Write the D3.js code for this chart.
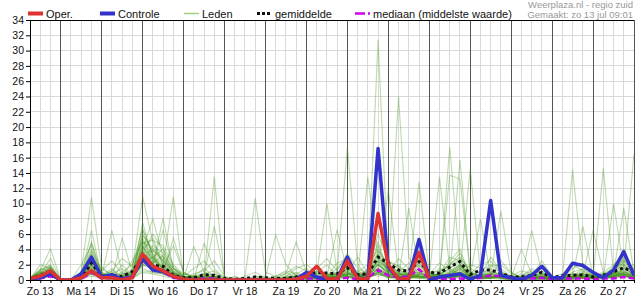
<!DOCTYPE html>
<html>
<head>
<meta charset="utf-8">
<script src="https://cdn.jsdelivr.net/npm/d3@7/dist/d3.min.js"></script>
<style>
  html, body { margin: 0; padding: 0; background: #fff; }
  svg { display: block; font-family: "Liberation Sans", Arial, sans-serif; }
</style>
</head>
<body>
<svg id="chart" width="635" height="300"></svg>
<script>
// ======================================================
//  Neerslag-pluim (ensemble) — Weerplaza regio zuid
// ======================================================
// 6-hourly values, first point zo 13 jul 06:00, last ma 28 jul 00:00.

const startTime = new Date(2025, 6, 13, 6);
const endTime = new Date(2025, 6, 28, 0);
const stepHours = 6;

const dayLabels = ["Zo 13", "Ma 14", "Di 15", "Wo 16", "Do 17", "Vr 18", "Za 19",
  "Zo 20", "Ma 21", "Di 22", "Wo 23", "Do 24", "Vr 25", "Za 26", "Zo 27"];
const yTicks = d3.range(0, 35, 2);

// Oper. run stops after ~10 days
const oper = [0.2,0.5,1.2, 0,0,0.3,1.2, 0.3,0.3,0,0.3, 3.4,1.8,1.2,0.5, 0.1,0,0,0,
  0,0,0,0, 0,0,0,0.1, 0.5,1.8,0.2,0.1, 2.5,0.2,0.1,8.7, 2.0,0.1,0.2,3.6, 0.2];

const controle = [0.1,0.3,0.8, 0,0,0.8,3.0, 0.4,0.7,0.1,0.4, 2.8,1.3,1.1,0.5, 0.1,0,0,0,
  0,0,0,0, 0,0,0,0.1, 1.0,0.4,0.1,0.1, 3.0,0.2,0.2,17.2, 1.7,0.1,0.2,5.3,
  0.1,0.4,0.6,0.8, 0.1,0.6,10.4,0.6, 0.3,0.1,0.6,1.8, 0.3,0.3,2.2,1.9, 1.0,0.3,1.3,3.7, 0.6];

const gemiddelde = [0.1,0.6,1.1, 0,0,0.3,2.2, 0.5,0.6,0.5,1.1, 3.0,1.9,1.8,0.6, 0.3,0.3,0.7,0.6,
  0.2,0.1,0.2,0.4, 0.3,0.2,0.2,0.4, 0.7,1.0,0.9,0.8, 1.6,0.7,0.8,3.0, 2.2,1.3,1.2,2.4,
  1.0,0.9,1.7,2.4, 0.7,1.3,1.3,0.9, 0.4,0.4,0.6,1.0, 0.3,0.6,0.6,0.7, 0.4,0.6,1.1,1.6, 1.0];

const mediaan = [0,0.2,0.5, 0,0,0.1,1.0, 0.2,0.3,0.2,0.5, 2.6,1.3,1.0,0.3, 0.1,0.1,0.2,0.2,
  0,0,0,0, 0,0,0,0, 0.2,0.2,0.1,0.1, 0.3,0.1,0.3,1.3, 0.6,0.3,0.5,1.4,
  0.2,0.1,0.1,0.2, 0.1,0.3,0.6,0.5, 0.2,0.1,0.2,0.3, 0.1,0.2,0.2,0.2, 0.1,0.2,0.2,0.4, 0.2];

// ensemble members (Leden)
const leden = [
  [0.2,1.2,4.1, 0,0,0.5,2.0, 0.8,0.3,0,0.5, 3.0,2.0,1.2,0.4, 0,0.3,0.8,0.2, 0,0,0,0, 0,0,0.2,0.5, 0.8,0.3,0,0.6, 1.2,0.4,0.8,3.5, 1.0,2.0,0.5,1.5, 0.6,0.3,2.5,4.0, 0.5,0.2,1.0,0.3, 0,0,0.5,0.8, 0.2,0,0.4,1.0, 0.3,0.5,1.2,2.0, 0.5],
  [0,0.8,2.8, 0,0,1.0,10.8, 1.5,0.5,0.2,1.0, 5.5,3.0,1.5,0.5, 0.2,0,0,0.5, 0,0,0.3,0, 0,0,0,0, 0.2,1.0,2.0,0.5, 0.3,0,1.5,2.0, 0.5,0.2,0.8,0.3, 0,1.0,0.5,0.2, 0,0.5,3.0,1.2, 0.3,0,0,0.2, 0,0,0.3,0.6, 0.2,0,0.8,3.0, 1.0],
  [0.1,2.0,1.5, 0,0,0.3,6.5, 0.5,6.5,1.0,0.3, 2.0,4.0,2.5,1.0, 0.3,0.5,0,0, 0,0.5,0,0, 0,0,0,0.3, 0,0.5,0.2,1.0, 17.4,2.0,0.5,1.0, 0.3,0,0.5,1.0, 0.5,0.2,0.8,1.5, 0.4,0,0.3,0.5, 0,0,0.2,0.4, 0,0.2,0.5,0.3, 0,0.3,0.6,1.0, 0.3],
  [0.3,1.0,1.8, 0,0,0,5.0, 1.0,0.2,2.0,0.5, 4.5,2.0,6.5,1.5, 0.5,0.2,0.5,7.0, 0.5,0,0,0, 0,0.3,0,0, 0,0,0.5,0.3, 0.8,0.5,1.0,31.4, 2.0,1.0,0.3,0.2, 0.4,0,0.3,0.6, 0.2,0.8,1.5,0.5, 0.2,0,0,0.1, 0,0,0.2,0.4, 0.6,0.2,0.3,1.5, 2.0],
  [0,0.5,1.3, 0,0,0.5,3.5, 0.3,0,0.5,1.5, 10.9,5.0,2.0,0.8, 0,0.3,0.2,0, 0,0,0,0, 0,0,0.5,1.0, 0.5,0,0.3,0.2, 2.0,0.6,0.2,1.5, 0.8,24.0,3.0,0.5, 0.3,0.5,0.2,1.0, 0.6,0.3,0.2,0.1, 0,0.3,0.5,0.2, 0,0,0,0.3, 0.2,0.5,0.3,0.8, 0.2],
  [0.2,0.6,0.9, 0,0,0.8,2.5, 0.5,1.0,0.3,0.2, 4.0,8.0,3.0,1.0, 0.2,4.4,1.0,0.5, 0,0,0,0.3, 0.5,0,0,0, 0.3,0.2,0,0.5, 1.0,0.3,0.8,2.5, 0.5,0.3,9.4,1.0, 0.5,1.5,0.8,2.0, 0.3,0.2,0.5,2.5, 1.0,0.2,0,0, 0,0.3,0.8,0.5, 0.2,0.4,1.5,2.5, 0.8],
  [0,0.3,0.7, 0,0,0.2,1.8, 0.3,0.5,0.3,1.2, 6.5,3.5,1.0,0.3, 0,0,4.8,1.5, 0.2,0,0,0, 0,0,0.3,0.8, 1.5,0.5,0.2,0, 0.5,0.2,13.5,3.0, 1.0,0.5,0.2,0.5, 0.2,0.3,17.4,2.0, 0.5,0.2,0.3,0.8, 0.2,0,0.3,0.6, 0.1,0,0.2,0.5, 0.3,0.8,1.0,0.6, 0.2],
  [0.1,0.9,1.6, 0,0,2.0,4.5, 0.8,0.3,0,0.3, 3.5,1.5,0.8,5.5, 1.0,0.3,0,0.2, 0,0,0,0.5, 0.2,0,0,0.2, 0.5,0.8,10.0,1.0, 0.5,0.3,0.2,1.0, 0.5,0.8,0.5,12.8, 0.8,0.5,0.3,0.5, 0.2,0.5,0.8,0.2, 0,0.2,1.0,0.5, 0.2,0.5,0.3,0.2, 0.5,0.2,0.4,1.2, 0.5],
  [0.2,1.5,1.1, 0,0,0,3.0, 0.5,0.8,1.5,0.5, 7.5,3.0,2.0,0.5, 0.3,0,0.5,0.8, 0,0,0.3,10.7, 1.0,0.5,0,0, 0.2,0.3,0.5,1.5, 3.0,0.5,0.3,0.8, 0.5,0.2,1.0,0.5, 0.3,13.5,1.5,0.8, 0.5,0.3,0.2,0.5, 0.3,0.5,0.2,0, 0,0.2,0.5,1.5, 0.8,0.3,0.5,1.0, 0.6],
  [0,0.4,1.0, 0,0,0.3,2.2, 1.8,0.5,0.3,0.8, 2.5,4.5,3.5,1.5, 0.5,0.2,0.3,13.5, 0.3,0,0,0, 0,0,0.3,0.5, 0.3,0,0.2,0.5, 1.0,3.0,0.8,0.5, 0.8,0.5,0.3,2.0, 0.5,0.3,0.8,15.7, 1.0,0.5,0.3,0.8, 0.5,0.2,0.3,0.2, 0.3,0,0,0.5, 0.3,0.6,0.8,1.5, 0.7],
  [0.3,0.7,1.4, 0,0,0.5,1.5, 0.2,0.3,0.5,2.5, 5.0,2.5,1.5,0.8, 0.2,0,0,0.3, 0,0,0.5,1.0, 0.3,5.9,2.0,0.5, 0.3,0.2,0.5,0.3, 0.5,0.2,1.0,2.5, 1.5,0.8,0.3,0.5, 0.3,0.2,0.5,1.0, 14.5,1.0,0.5,0.3, 0,0,0.3,0.5, 0.2,0.3,0.5,0.8, 0.5,0.2,0.5,0.8, 0.3],
  [0.1,0.5,0.6, 0,0,0.3,2.0, 0.5,0.3,5.5,1.0, 3.0,2.0,8.1,1.5, 0.5,0.2,0.3,0.5, 0,0.2,0,0, 0,0,0,0.5, 0.5,0.3,0.8,0.5, 0.8,0.5,0.3,1.5, 11.8,1.0,0.5,0.3, 0.2,0.5,1.0,2.0, 0.3,0.5,1.0,0.8, 0.5,0.3,6.5,1.0, 0.3,0.2,0.5,0.3, 0.2,0.3,0.5,0.6, 0.3],
  [0.2,1.1,0.5, 0,0,1.0,1.0, 0.3,0.2,0.3,0.5, 4.0,5.5,2.0,10.9, 0.5,0.3,0.2,0.3, 0,0,0,0.2, 0,0.3,0.8,5.0, 1.0,0.5,0.3,0.2, 0.5,0.8,0.5,2.0, 1.0,0.5,0.3,0.8, 0.5,0.3,0.5,1.5, 0.3,0.2,0.8,0.5, 0.3,0,0.2,0.3, 0,0.2,14.4,2.0, 0.5,0.3,0.5,1.0, 0.5],
  [0,0.6,1.2, 0,0,0.2,1.2, 0.2,0.5,0.2,0.5, 2.0,1.5,1.0,0.5, 0.2,0.3,0.5,0.3, 0,0,0,0, 0,0,0,0, 0.2,0.5,0.3,0.8, 0.5,0.3,0.5,1.0, 0.5,0.3,0.8,1.0, 0.5,0.8,1.5,2.5, 0.5,0.3,0.5,9.0, 1.0,0.3,0.2,0.5, 0.2,0,0.3,0.5, 0.3,14.6,1.0,0.8, 0.3],
  [0.1,0.3,0.8, 0,0,0.5,0.8, 0.3,0.2,0.2,0.3, 1.5,1.0,0.8,0.3, 0.2,0,0.2,0.5, 0,0,0,0.3, 0,0.2,0.5,0.3, 0.5,0.3,0.2,0.5, 0.8,0.5,1.0,1.5, 0.5,0.8,0.5,0.8, 0.5,0.3,0.5,1.0, 0.5,0.8,0.5,0.3, 0.2,0.3,0.5,0.3, 0.2,0.3,0.5,0.8, 0.5,0.3,10.0,1.5, 16.5],
  [0.2,0.8,1.0, 0,0,0.3,2.5, 0.5,1.5,0.3,0.2, 3.5,6.0,4.0,1.0, 0.3,0.5,0.3,0.2, 0,0,0,0, 0,0,0,0.2, 0.3,0.5,0.3,0.5, 1.5,0.5,0.8,4.5, 0.8,0.5,0.3,0.5, 0.3,0.5,0.8,1.2, 0.5,0.3,0.5,0.3, 0,0.5,0.3,0.5, 0.3,0.2,0.5,7.0, 0.5,0.3,0.8,9.4, 1.0],
  [0,0.5,0.6, 0,0,0,1.5, 0.3,0.2,0.5,0.8, 2.5,3.0,1.5,4.5, 1.0,0.3,0,0, 0,0,0,0, 0,0,0.3,0.2, 0.5,0.3,0.5,6.6, 1.0,0.5,0.3,1.0, 0.5,0.3,0.8,0.5, 0.3,0.8,1.2,0.8, 0.3,0.5,0.3,0.5, 0.2,0.3,0.5,0.2, 0,0,0.3,0.5, 6.5,1.0,0.5,0.8, 0.4],
  [0.2,0.4,0.9, 0,0,0.5,1.0, 0.2,0.3,0.2,0.5, 2.0,1.5,1.0,0.5, 0.2,0,0.3,0.2, 0,0.3,0,0, 0,0,0,0.3, 0.8,0.5,0.3,0.5, 0.8,1.0,0.5,2.0, 1.0,0.5,0.5,0.8, 0.3,0.5,13.7,13.2, 1.0,0.5,0.3,0.5, 0.3,0.2,0.3,0.5, 0.3,0.2,0.3,0.8, 0.3,0.5,0.8,1.2, 0.5],
  [0.1,0.6,1.5, 0,0,0.8,4.0, 0.5,0.3,0.2,0.8, 6.0,3.5,2.5,1.0, 0.3,0.5,0.8,0.3, 0,0,0,0, 0,0,0,0, 0,0.3,0.5,1.0, 0.5,0.3,0.8,1.5, 0.5,1.0,0.8,0.5, 0.5,0.3,0.5,0.8, 0.3,0.5,0.3,0.2, 0.5,0.3,0.2,0.3, 0,0.3,0.5,0.3, 0.2,0.5,0.3,0.8, 0.3],
  [0,0.2,0.5, 0,0,0,0.8, 0.2,0,0.3,0.5, 1.8,2.5,1.8,0.8, 0.5,0.3,0.2,0, 0,0,0,0, 0,0,0.2,0.5, 0.3,0.8,0.5,0.3, 2.0,0.8,0.5,8.0, 2.5,1.5,0.5,0.3, 0.5,0.8,0.5,0.3, 0.2,0.3,0.8,0.5, 0.3,0.5,0.2,0.3, 0.2,0.3,0.2,0.5, 0.5,0.8,0.5,0.5, 0.2],
  [0.2,0.8,0.7, 0,0,0.3,1.8, 0.3,0.5,0.3,0.3, 3.2,2.0,1.3,0.5, 0.2,0.5,1.5,0.5, 0,0,0,0, 0,0.5,1.0,0.3, 0.5,0.3,0.3,0.5, 0.5,0.5,0.3,1.0, 0.3,0.5,1.5,4.0, 0.8,0.5,0.3,0.5, 0.3,0.2,0.3,0.5, 0.3,0.8,0.5,0.3, 0.2,0,0,0.3, 0.3,0.5,0.6,1.0, 0.5],
  [0.1,0.5,1.2, 0,0,0.3,3.0, 0.5,0.2,0.3,0.5, 4.5,2.5,1.5,0.8, 0.3,0.2,0.3,0.2, 0,0,0,0, 0,0,0,0, 0.3,0.2,0.5,0.8, 0.5,0.3,0.8,5.0, 1.0,0.8,0.5,0.5, 0.3,0.5,0.8,1.0, 0.5,8.0,0.5,0.3, 0.2,0.3,0.5,0.5, 0.3,0.5,0.3,0.5, 0.3,0.5,0.5,0.8, 0.3],
  [0.2,0.3,0.4, 0,0,0.2,0.5, 0.2,0.3,0.2,0.2, 1.0,0.8,0.5,0.2, 0.2,0,0,0.2, 0,0,0,0, 0,0,0,0, 0.2,0.3,0.2,0.5, 0.3,0.5,0.3,0.8, 0.3,0.5,0.3,0.5, 0.3,0.2,0.3,0.5, 0.3,0.2,0.5,0.3, 0.2,0.3,0.2,0.3, 0.2,0.2,0.3,0.2, 0.3,0.2,0.3,0.5, 0.2],
  [0,0.7,1.3, 0,0,0.5,2.8, 1.0,0.5,0.3,0.8, 5.0,4.0,2.5,1.0, 0.5,0.3,0.2,0.5, 0,0,0,0.5, 0.3,0,0,0, 0,0.2,0.5,0.3, 1.5,0.8,0.5,3.0, 1.5,0.5,0.3,0.5, 0.5,1.0,2.0,3.0, 1.0,0.5,0.3,0.5, 0.3,0.2,0,0.3, 0.5,0.3,0.5,0.3, 0.3,0.5,0.5,2.5, 1.5],
  [0.3,1.0,0.8, 0,0,0.3,1.3, 0.3,0.2,0.5,0.3, 2.8,1.8,1.0,0.3, 0.2,0.3,0.2,0.3, 0,0,0,0, 0,0,0.3,0.5, 0.3,0.5,0.3,0.2, 0.8,0.5,0.3,1.2, 0.5,0.3,0.5,0.3, 0.3,0.5,0.3,0.5, 0.3,0.2,0.3,0.5, 0.3,4.0,0.8,0.3, 0.2,0.3,0.5,0.3, 0.2,0.5,0.3,0.5, 0.3],
  [0.1,0.4,1.0, 0,0,0.2,1.6, 0.3,0.5,0.8,0.5, 3.8,2.2,1.2,0.6, 0.3,0.2,0.5,0.3, 0,0,0.2,0, 0,0,0,0.3, 0.5,0.3,0.2,0.5, 1.0,0.5,0.5,2.2, 0.8,0.5,0.3,0.8, 0.5,0.8,0.5,0.5, 0.3,0.5,0.8,0.3, 0.5,0.3,0.2,0.2, 0.2,0.5,0.3,0.5, 0.8,0.3,0.5,4.0, 0.8],
  [0.2,0.6,0.8, 0,0,0.5,2.0, 0.3,0.3,0.2,0.3, 2.2,3.0,4.0,1.8, 0.5,0.3,0.2,0.3, 0,0,0,0, 0,0.2,0.3,0.5, 0.3,0.5,0.8,0.5, 2.5,0.5,0.3,1.5, 0.5,0.8,0.5,0.5, 0.3,0.5,0.5,0.8, 2.0,1.5,0.5,0.3, 0.5,0.3,0.3,0.2, 0.3,0.5,0.8,0.5, 0.3,0.5,0.8,0.6, 0.3],
  [0,0.5,1.0, 0,0,0.3,1.2, 0.3,0.2,0.3,0.5, 3.0,2.0,1.0,0.5, 0.3,0.2,0.2,0.2, 0,0,0,0, 0,0,0,0, 0.5,0.3,0.5,0.5, 0.8,0.5,0.8,1.2, 0.8,0.5,0.3,0.5, 0.3,0.5,0.3,0.5, 0.3,0.5,0.2,0.3, 0.3,0.5,1.5,0.8, 0.3,0.2,0.3,0.3, 0.5,0.3,0.5,0.8, 0.3],
  [0.1,0.3,0.6, 0,0,0.2,0.8, 0.2,0.3,0.2,0.2, 1.2,1.0,0.8,0.3, 0.2,0.3,0.5,0.2, 0,0,0,0, 0,0,0,0.2, 0.3,0.2,0.3,0.3, 0.5,0.3,0.3,0.8, 0.3,0.5,0.3,0.3, 0.3,0.3,0.5,0.5, 0.3,0.2,0.3,0.5, 0.3,0.2,0.3,0.2, 0.3,0.2,0.2,0.3, 0.3,0.3,0.5,0.5, 0.3],
  [0.2,0.9,1.4, 0,0,0.8,2.2, 0.5,0.3,0.5,0.8, 4.2,2.8,1.5,0.5, 0.2,0.3,0.2,0.2, 0,0,0,0, 0,0,0,0.3, 0.5,0.3,0.3,0.5, 1.2,0.5,0.3,2.8, 1.2,0.5,0.8,1.5, 0.5,0.3,0.5,1.8, 0.5,0.3,0.5,0.3, 0.3,0.2,0.3,0.5, 0.2,0.3,0.5,0.3, 0.3,0.5,0.8,1.8, 0.6],
  [0.3,1.2,2.0, 0,0,0.5,3.8, 1.2,2.5,0.8,1.0, 5.8,4.2,3.0,1.2, 0.5,1.5,2.5,1.0, 0.2,0,0,0, 0,0,0.5,1.5, 2.0,1.0,0.5,0.8, 2.2,1.0,2.0,4.0, 1.5,1.0,2.2,3.0, 0.8,1.2,2.0,3.5, 0.8,2.0,2.5,1.0, 0.3,0.2,0.8,1.2, 0.3,0.5,1.0,1.5, 0.5,1.0,2.0,3.2, 1.2],
  [0.1,0.8,1.6, 0,0,1.2,4.8, 0.6,1.2,2.8,1.8, 6.8,3.2,2.2,0.8, 0.3,0.8,1.2,2.5, 0.5,0,0,0.2, 0,0.5,1.2,0.8, 0.5,1.5,2.8,1.2, 3.5,1.5,0.8,6.0, 2.5,1.8,0.8,2.5, 0.5,0.8,3.0,2.5, 1.2,0.5,1.8,2.0, 0.8,0.3,0.5,2.5, 0.5,0.3,1.5,2.2, 0.8,0.5,1.2,2.8, 0.8],
  [0.2,0.5,1.1, 0,0,0.3,2.6, 0.5,0.8,0.3,0.5, 4.8,5.2,4.5,2.0, 0.8,0.5,0.3,0.5, 0,0,0,0, 0,0,0,0.3, 0.8,0.5,0.3,0.5, 1.8,0.8,1.2,3.2, 1.8,1.2,0.8,2.8, 1.0,0.5,0.8,1.5, 0.5,1.2,2.0,1.0, 0.5,0.3,0.5,0.8, 0.3,0.2,0.5,1.2, 0.5,0.8,1.5,2.2, 0.8],
  [0.3,1.3,1.9, 0,0,0.8,3.3, 0.8,0.5,1.0,2.0, 5.2,2.8,1.8,0.8, 0.3,0.2,0.8,1.2, 0.3,0,0,0, 0,0.3,0.8,1.8, 1.2,0.8,0.5,2.2, 2.8,0.8,0.5,2.0, 1.0,2.8,1.5,1.8, 0.8,2.2,1.2,2.0, 0.8,0.5,0.8,1.5, 0.5,1.2,0.8,0.5, 0.3,0.8,2.0,1.2, 0.5,0.8,0.5,1.5, 0.6],
  [0.1,0.6,1.3, 0,0,0.5,2.4, 0.3,1.2,0.5,0.8, 3.6,3.8,2.8,1.2, 0.5,0.3,0.5,0.8, 0,0,0,0, 0,0,0.3,0.5, 0.5,1.2,0.8,0.5, 1.5,0.5,0.8,3.8, 2.2,0.8,0.5,1.2, 0.5,0.8,1.5,2.8, 1.5,0.8,0.5,0.8, 0.3,0.5,1.2,0.8, 0.3,0.5,0.8,0.5, 0.3,0.5,1.8,2.0, 0.5],
  [0.2,0.9,1.7, 0,0,0.3,1.9, 0.8,0.5,0.3,1.2, 4.0,2.2,3.2,1.5, 0.8,0.5,0.3,0.2, 0,0,0,0, 0,0,0,0, 0.3,0.5,0.3,1.0, 1.5,1.2,0.5,2.5, 1.2,0.5,1.2,2.2, 0.8,0.5,1.0,1.8, 0.8,0.5,1.2,0.5, 0.2,0.3,0.5,1.0, 0.3,0.2,0.3,0.8, 0.5,0.3,0.8,1.2, 0.5]
];

// ------------------------------------------------------
const svg = d3.select("#chart");
const plot = { left: 30, right: 634, top: 20, bottom: 280 };

const x = d3.scaleTime().domain([startTime, endTime]).range([plot.left, plot.right]);
const y = d3.scaleLinear().domain([0, 34]).range([plot.bottom, plot.top]);

const timeAt = (i) => d3.timeHour.offset(startTime, i * stepHours);
const sixHourly = d3.timeHour.every(6).range(startTime, d3.timeHour.offset(endTime, 1));

// Grid: light lines every 6 h and every 2 mm, dark lines at midnight
const grid = svg.append("g");
grid.selectAll(".vgrid")
  .data(sixHourly.filter((t) => t.getHours() !== 0))
  .join("line")
  .attr("x1", (t) => x(t)).attr("x2", (t) => x(t))
  .attr("y1", plot.top).attr("y2", plot.bottom)
  .attr("stroke", "#d9d9d9").attr("stroke-width", 1)
  .attr("shape-rendering", "crispEdges");
grid.selectAll(".hgrid")
  .data(yTicks)
  .join("line")
  .attr("x1", plot.left).attr("x2", plot.right)
  .attr("y1", (d) => y(d)).attr("y2", (d) => y(d))
  .attr("stroke", "#d9d9d9").attr("stroke-width", 1)
  .attr("shape-rendering", "crispEdges");
grid.selectAll(".daygrid")
  .data(sixHourly.filter((t) => t.getHours() === 0))
  .join("line")
  .attr("x1", (t) => x(t)).attr("x2", (t) => x(t))
  .attr("y1", plot.top).attr("y2", plot.bottom)
  .attr("stroke", "#555").attr("stroke-width", 1)
  .attr("shape-rendering", "crispEdges");

svg.append("clipPath").attr("id", "plotClip")
  .append("rect")
  .attr("x", plot.left).attr("y", plot.top)
  .attr("width", plot.right - plot.left).attr("height", plot.bottom - plot.top);

const line = d3.line()
  .x((d, i) => x(timeAt(i)))
  .y((d) => y(d));

const series = svg.append("g").attr("clip-path", "url(#plotClip)");

// members first, underneath everything
series.selectAll(".lid")
  .data(leden)
  .join("path")
  .attr("d", line)
  .attr("fill", "none")
  .attr("stroke", "rgb(70,150,30)")
  .attr("stroke-opacity", 0.35)
  .attr("stroke-width", 1.1);

series.append("path").datum(mediaan)
  .attr("d", line).attr("fill", "none")
  .attr("stroke", "#cc00ee").attr("stroke-width", 2.5)
  .attr("stroke-dasharray", "6,3");

series.append("path").datum(gemiddelde)
  .attr("d", line).attr("fill", "none")
  .attr("stroke", "#111").attr("stroke-width", 3)
  .attr("stroke-dasharray", "3,3");

series.append("path").datum(controle)
  .attr("d", line).attr("fill", "none")
  .attr("stroke", "#3333cc").attr("stroke-width", 3.5)
  .attr("stroke-linejoin", "round");

series.append("path").datum(oper)
  .attr("d", line).attr("fill", "none")
  .attr("stroke", "#dd3333").attr("stroke-width", 3.5)
  .attr("stroke-linejoin", "round");

// Axes
const yAxis = svg.append("g")
  .attr("transform", `translate(${plot.left},0)`)
  .call(d3.axisLeft(y).tickValues(yTicks).tickSize(4).tickSizeOuter(0).tickPadding(2));
yAxis.select(".domain").attr("stroke", "#000");
yAxis.selectAll("text").attr("font-size", 10.5).attr("font-family", "Liberation Sans, Arial, sans-serif").attr("fill", "#111");

const xAxis = svg.append("g")
  .attr("transform", `translate(0,${plot.bottom})`)
  .call(d3.axisBottom(x).tickValues(sixHourly).tickSize(3).tickSizeOuter(0).tickFormat(""));
xAxis.select(".domain").attr("stroke", "#000");

svg.selectAll(".daylabel")
  .data(dayLabels)
  .join("text")
  .attr("x", (d, i) => x(d3.timeHour.offset(d3.timeDay.offset(d3.timeDay.floor(startTime), i), 12)))
  .attr("y", 294.5)
  .attr("text-anchor", "middle")
  .attr("font-size", 10.5)
  .attr("fill", "#111")
  .text((d) => d);

// top border
svg.append("line")
  .attr("x1", plot.left).attr("x2", plot.right)
  .attr("y1", plot.top).attr("y2", plot.top)
  .attr("stroke", "#000").attr("shape-rendering", "crispEdges");

// Legend
const legend = svg.append("g").attr("font-size", 11).attr("fill", "#111");
const legendItems = [
  { label: "Oper.", x: 28, stroke: "#dd3333", width: 4, dash: null },
  { label: "Controle", x: 100, stroke: "#3333cc", width: 4, dash: null },
  { label: "Leden", x: 184, stroke: "rgb(160,205,130)", width: 1.5, dash: null },
  { label: "gemiddelde", x: 257, stroke: "#111", width: 3, dash: "3,2" },
  { label: "mediaan (middelste waarde)", x: 355, stroke: "#cc00ee", width: 2.5, dash: "10,3,2,3" }
];
legendItems.forEach((d) => {
  legend.append("line")
    .attr("x1", d.x).attr("x2", d.x + 15)
    .attr("y1", 13.5).attr("y2", 13.5)
    .attr("stroke", d.stroke).attr("stroke-width", d.width)
    .attr("stroke-dasharray", d.dash);
  legend.append("text")
    .attr("x", d.x + 18).attr("y", 17.5)
    .text(d.label);
});

svg.append("text")
  .attr("x", 633).attr("y", 7.5)
  .attr("text-anchor", "end").attr("font-size", 9.5).attr("fill", "#999")
  .text("Weerplaza.nl - regio zuid");
svg.append("text")
  .attr("x", 633).attr("y", 17.5)
  .attr("text-anchor", "end").attr("font-size", 9.5).attr("fill", "#999")
  .text("Gemaakt: zo 13 jul 09:01");
</script>
</body>
</html>
